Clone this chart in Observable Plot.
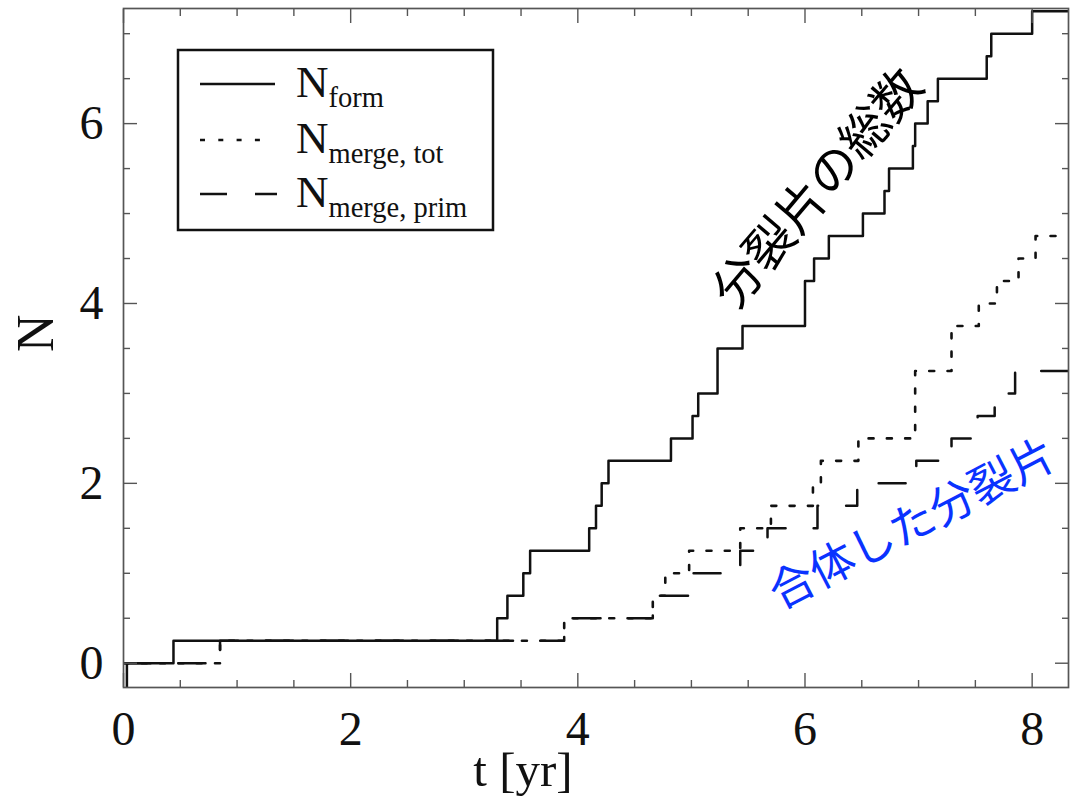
<!DOCTYPE html>
<html><head><meta charset="utf-8">
<script src="https://cdn.jsdelivr.net/npm/d3@7"></script>
<script src="https://cdn.jsdelivr.net/npm/@observablehq/plot@0.6"></script>
<style>
html,body{margin:0;padding:0;background:#fff;}
#wrap{position:relative;width:1072px;height:804px;}
</style></head><body><div id="wrap"></div>
<script>
// ---- data ----
const formT = [0, 0.03, 0.44, 3.29, 3.38, 3.52, 3.58, 4.10, 4.16, 4.21, 4.27, 4.82, 5.01, 5.06, 5.23, 5.45, 6.00, 6.08, 6.21, 6.51, 6.70, 6.74, 6.95, 6.97, 7.08, 7.17, 7.60, 7.64, 8.00, 8.32];
const formN = [-0.5, 0, 0.25, 0.5, 0.75, 1.0, 1.25, 1.5, 1.75, 2.0, 2.25, 2.5, 2.75, 3.0, 3.5, 3.75, 4.25, 4.5, 4.75, 5.0, 5.25, 5.5, 5.75, 6.0, 6.25, 6.5, 6.75, 7.0, 7.25, 7.25];

const totT = [0, 0.85, 3.88, 4.66, 4.77, 4.98, 5.43, 5.70, 6.07, 6.14, 6.47, 6.97, 7.29, 7.53, 7.69, 7.88, 8.03, 8.32];
const totN = [0, 0.25, 0.5, 0.75, 1.0, 1.25, 1.5, 1.75, 2.0, 2.25, 2.5, 3.25, 3.75, 4.0, 4.25, 4.5, 4.75, 4.75];

const primT = [0, 0.85, 3.88, 4.66, 4.99, 5.43, 5.67, 6.11, 6.46, 6.98, 7.29, 7.52, 7.67, 7.85, 8.32];
const primN = [0, 0.25, 0.5, 0.75, 1.0, 1.25, 1.5, 1.75, 2.0, 2.25, 2.5, 2.75, 3.0, 3.25, 3.25];

const xMajor = [0, 2, 4, 6, 8];
const xMinor = [0.5, 1, 1.5, 2.5, 3, 3.5, 4.5, 5, 5.5, 6.5, 7, 7.5];
const yMajor = [0, 2, 4, 6];
const yMinor = [0.5, 1, 1.5, 2.5, 3, 3.5, 4.5, 5, 5.5, 6.5, 7];

const xLabel = "t [yr]";
const yLabel = "N";
const annoTotal = "分裂片の総数";
const annoMerged = "合体した分裂片";
const legendSubs = ["form", "merge, tot", "merge, prim"];

// ---- build ----
const rows = (ts, ns) => ts.map((t, i) => ({t, n: ns[i]}));
const formRows = rows(formT, formN);
const totRows = rows(totT, totN);
const primRows = rows(primT, primN);

const serif = "'Liberation Serif', 'Times New Roman', serif";
const cjk = "'Noto Sans CJK JP', 'Noto Sans', sans-serif";
const frameColor = "#555";
const dashes = [null, "5,13.3", "27,28"];

const chart = Plot.plot({
  width: 1072, height: 804,
  marginLeft: 123, marginRight: 4, marginTop: 8, marginBottom: 117,
  x: {domain: [0, 8.32]},
  y: {domain: [-0.27, 7.28]},
  style: {fontFamily: serif, background: "#fff", color: "#111"},
  marks: [
    Plot.line(primRows, {x: "t", y: "n", curve: "step-after", stroke: "#111", strokeWidth: 2.5, strokeDasharray: dashes[2], clip: true}),
    Plot.line(totRows, {x: "t", y: "n", curve: "step-after", stroke: "#111", strokeWidth: 2.6, strokeDasharray: dashes[1], clip: true}),
    Plot.line(formRows, {x: "t", y: "n", curve: "step-after", stroke: "#111", strokeWidth: 2.5, clip: true}),
    Plot.frame({stroke: frameColor, strokeWidth: 1.7}),
    // inward ticks on all four sides
    Plot.axisX({anchor: "bottom", ticks: xMajor, tickSize: -14, tickFormat: () => "", label: null, stroke: frameColor, strokeWidth: 1.4}),
    Plot.axisX({anchor: "bottom", ticks: xMinor, tickSize: -7, tickFormat: () => "", label: null, stroke: frameColor, strokeWidth: 1.4}),
    Plot.axisX({anchor: "top", ticks: xMajor, tickSize: -14, tickFormat: () => "", label: null, stroke: frameColor, strokeWidth: 1.4}),
    Plot.axisX({anchor: "top", ticks: xMinor, tickSize: -7, tickFormat: () => "", label: null, stroke: frameColor, strokeWidth: 1.4}),
    Plot.axisY({anchor: "left", ticks: yMajor, tickSize: -14, tickFormat: () => "", label: null, stroke: frameColor, strokeWidth: 1.4}),
    Plot.axisY({anchor: "left", ticks: yMinor, tickSize: -7, tickFormat: () => "", label: null, stroke: frameColor, strokeWidth: 1.4}),
    Plot.axisY({anchor: "right", ticks: yMajor, tickSize: -14, tickFormat: () => "", label: null, stroke: frameColor, strokeWidth: 1.4}),
    Plot.axisY({anchor: "right", ticks: yMinor, tickSize: -7, tickFormat: () => "", label: null, stroke: frameColor, strokeWidth: 1.4}),
    // tick labels
    Plot.axisX({anchor: "bottom", ticks: xMajor, tickSize: 0, tickPadding: 23, fontSize: 48, label: null, tickFormat: d => String(d)}),
    Plot.axisY({anchor: "left", ticks: yMajor, tickSize: 0, tickPadding: 20, fontSize: 48, label: null, tickFormat: d => String(d)}),
    // axis titles
    Plot.text([xLabel], {frameAnchor: "bottom", text: d => d, dx: -73, dy: 64, lineAnchor: "top", fontSize: 49, fill: "#111"}),
    Plot.text([yLabel], {frameAnchor: "left", text: d => d, dx: -87, dy: 4, rotate: -90, fontSize: 52, fill: "#111"}),
    // annotations
    Plot.text([annoTotal], {x: 6.12, y: 5.27, text: d => d, rotate: -49.7, fontSize: 49, fontFamily: cjk, fill: "#000"}),
    Plot.text([annoMerged], {x: 6.95, y: 1.54, text: d => d, rotate: -27.4, fontSize: 45, fontFamily: cjk, fill: "#0a32ff"})
  ]
});
const wrap = document.getElementById("wrap");
wrap.appendChild(chart);

// ---- legend overlay ----
const leg = d3.select(wrap).append("svg")
  .attr("width", 1072).attr("height", 804)
  .style("position", "absolute").style("left", "0px").style("top", "0px");
leg.append("rect").attr("x", 178).attr("y", 50).attr("width", 315).attr("height", 180)
  .attr("fill", "#fff").attr("stroke", "#111").attr("stroke-width", 2.5);
const rowY = [84, 140, 194];
const rowEnd = [275, 266, 277];
legendSubs.forEach((s, i) => {
  const ln = leg.append("line").attr("x1", 200).attr("x2", rowEnd[i]).attr("y1", rowY[i]).attr("y2", rowY[i])
    .attr("stroke", "#111").attr("stroke-width", 2.3);
  if (dashes[i]) ln.attr("stroke-dasharray", dashes[i]);
  const t = leg.append("text").attr("x", 296).attr("y", rowY[i] + 13)
    .attr("font-family", serif).attr("font-size", 45).attr("fill", "#111").text("N");
  t.append("tspan").attr("dy", 10).attr("font-size", 28.5).text(s);
});
</script></body></html>
